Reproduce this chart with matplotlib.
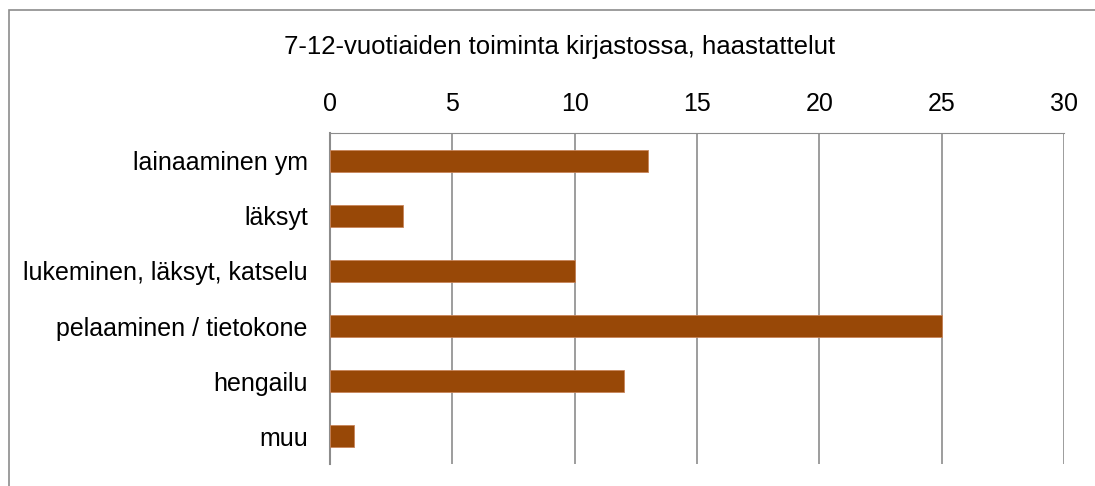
import matplotlib
matplotlib.use("Agg")
import matplotlib.pyplot as plt
from matplotlib.patches import Rectangle

categories = ["lainaaminen ym", "läksyt", "lukeminen, läksyt, katselu",
              "pelaaminen / tietokone", "hengailu", "muu"]
values = [13, 3, 10, 25, 12, 1]
x_ticks = [0, 5, 10, 15, 20, 25, 30]
title = "7-12-vuotiaiden toiminta kirjastossa, haastattelut"

plt.rcParams["font.family"] = ["Liberation Sans", "DejaVu Sans"]

fig = plt.figure(figsize=(10.95, 4.86), dpi=100)
# outer chart border (runs off right and bottom like the original)
fig.patches.append(Rectangle((9 / 1095, -0.1), 1.2, 1 - 10 / 486 + 0.1,
                             transform=fig.transFigure, fill=False,
                             edgecolor="#8c8c8c", linewidth=1.2))

ax = fig.add_axes([330 / 1095, 1 - 464 / 486, (1064 - 330) / 1095, (464 - 133) / 486])
pos = list(range(len(categories)))
ax.barh(pos, values, height=0.4, color="#984807", edgecolor="#c8845a",
        linewidth=0.6, zorder=3)
ax.set_ylim(len(categories) - 0.5, -0.5)
ax.set_xlim(0, 30)
ax.set_yticks(pos)
ax.set_yticklabels(categories, fontsize=18)
ax.set_xticks(x_ticks)
ax.set_xticklabels([str(t) for t in x_ticks], fontsize=18)
ax.xaxis.tick_top()
ax.tick_params(axis="y", length=0, pad=16)
ax.tick_params(axis="x", length=0, pad=12)
ax.grid(axis="x", color="#8c8c8c", linewidth=1.2, zorder=0)
for s in ["bottom", "right"]:
    ax.spines[s].set_visible(False)
ax.spines["top"].set_color("#8c8c8c")
ax.spines["left"].set_color("#8c8c8c")
ax.spines["left"].set_linewidth(1.5)

fig.text(560 / 1095, 1 - 47 / 486, title, ha="center", va="center", fontsize=18.5)

fig.savefig("out.png", dpi=100)
